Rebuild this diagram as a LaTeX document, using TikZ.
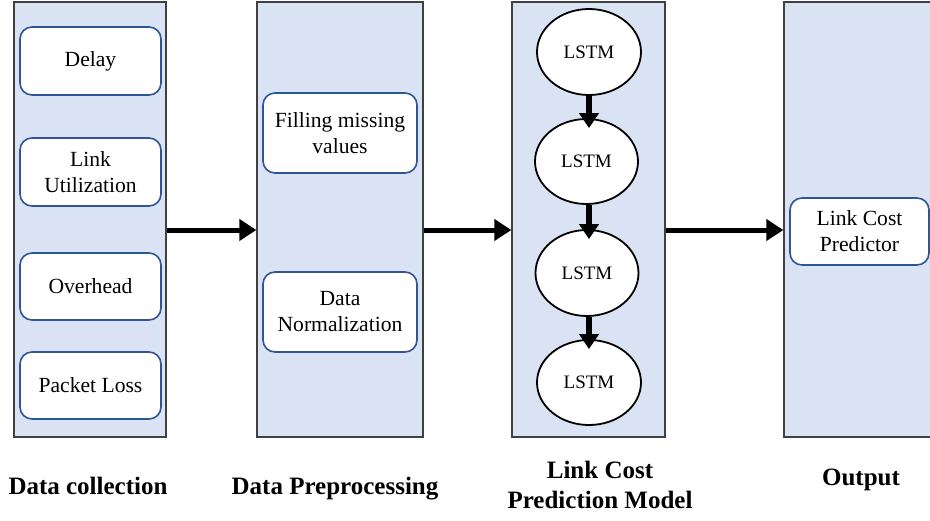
\documentclass[tikz,border=0pt]{standalone}
\usepackage{fontspec}
\setmainfont{Liberation Serif}
\usetikzlibrary{arrows.meta,shapes.geometric}
\definecolor{panelfill}{HTML}{DAE3F3}
\definecolor{panelline}{HTML}{404040}
\definecolor{boxline}{HTML}{2F5597}
\begin{document}
\begin{tikzpicture}[x=1pt,y=-1pt,
  panel/.style={draw=panelline,fill=panelfill,line width=1.3pt,minimum height=435pt,inner sep=0pt},
  itembox/.style={draw=boxline,fill=white,line width=1.6pt,rounded corners=12pt,inner sep=0pt,
     align=center,font=\fontsize{21.6}{26}\selectfont},
  lstm/.style={ellipse,draw=black,fill=white,line width=1.8pt,inner sep=0pt,
     font=\fontsize{19}{22}\selectfont},
  bigarrow/.style={line width=5pt,-{Triangle[length=17pt,width=21pt]}},
  smallarrow/.style={line width=5.5pt,-{Triangle[length=15pt,width=19pt]},shorten >=-10pt},
  caption/.style={align=center,font=\fontsize{25}{30}\selectfont\bfseries}]
\useasboundingbox (0,0) rectangle (930,520);
% panels
\node[panel,minimum width=152pt] (p1) at (90,219.5) {};
\node[panel,minimum width=166pt] (p2) at (340,219.5) {};
\node[panel,minimum width=153pt] (p3) at (588.5,219.5) {};
\node[panel,minimum width=160pt] (p4) at (864,219.5) {};
% data collection items
\node[itembox,minimum width=141pt,minimum height=68pt] (delay) at (90.5,61) {Delay};
\node[itembox,minimum width=141pt,minimum height=68pt] (util) at (90.5,172) {Link\\Utilization};
\node[itembox,minimum width=141pt,minimum height=67pt] (over) at (90.5,286.5) {Overhead};
\node[itembox,minimum width=141pt,minimum height=67pt] (loss) at (90.5,385.5) {Packet Loss};
% preprocessing items
\node[itembox,minimum width=154pt,minimum height=80pt] (fill) at (340,133) {Filling missing\\values};
\node[itembox,minimum width=154pt,minimum height=80pt] (norm) at (340,312) {Data\\Normalization};
% LSTMs
\node[lstm,minimum width=104pt,minimum height=86pt] (e1) at (589,52) {LSTM};
\node[lstm,minimum width=103pt,minimum height=85pt] (e2) at (586.5,161.5) {LSTM};
\node[lstm,minimum width=103pt,minimum height=86pt] (e3) at (587,273) {LSTM};
\node[lstm,minimum width=104pt,minimum height=85pt] (e4) at (589,382.5) {LSTM};
% output item
\node[itembox,minimum width=139pt,minimum height=67pt] (pred) at (859.5,231.5) {Link Cost\\Predictor};
% arrows
\draw[bigarrow] ([yshift=-10.5pt]p1.east) -- ([yshift=-10.5pt]p2.west);
\draw[bigarrow] ([yshift=-10.5pt]p2.east) -- ([yshift=-10.5pt]p3.west);
\draw[bigarrow] ([yshift=-10.5pt]p3.east) -- ([yshift=-10.5pt]p4.west);
\draw[smallarrow] (e1.south) -- (e1.south |- e2.north);
\draw[smallarrow] (e2.south -| e1.south) -- (e1.south |- e3.north);
\draw[smallarrow] (e3.south -| e1.south) -- (e1.south |- e4.north);
% captions
\node[caption,anchor=base] (c1) at (88,494) {Data collection};
\node[caption,anchor=base] (c2) at (335,494) {Data Preprocessing};
\node[caption] (c3) at (600,485) {Link Cost\\Prediction Model};
\node[caption,anchor=base] (c4) at (861,485) {Output};
\end{tikzpicture}
\end{document}
